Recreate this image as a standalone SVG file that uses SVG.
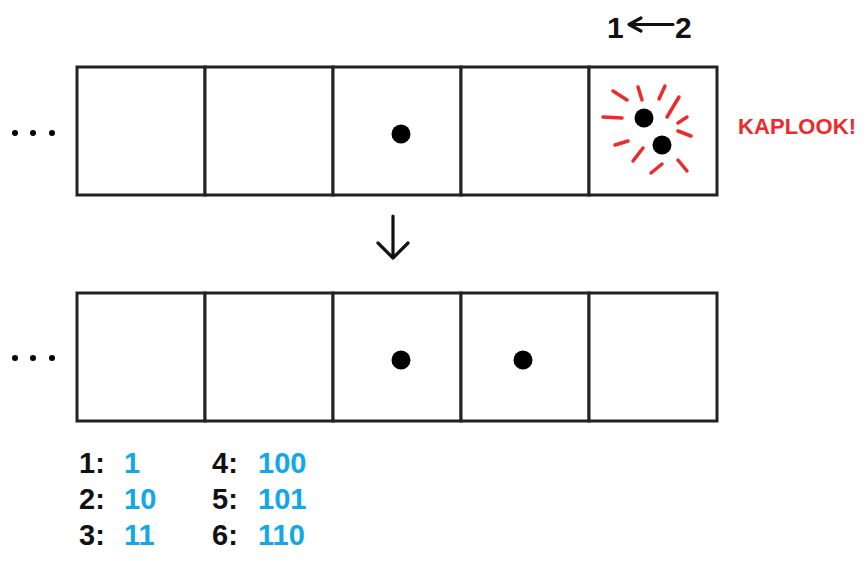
<svg xmlns="http://www.w3.org/2000/svg" width="867" height="561" viewBox="0 0 867 561">
<style>
.cell{fill:#fff;stroke:#222;stroke-width:3}
.dot{fill:#000}
.sdot{fill:#000}
.boom{stroke:#ee2a2a;stroke-width:3.5;stroke-linecap:round;fill:none}
.lbl{font-family:"Liberation Sans",Arial,sans-serif;font-weight:bold;fill:#111}
.num{font-family:"Liberation Sans",Arial,sans-serif;font-weight:bold;fill:#12a6ea}
.red{font-family:"Liberation Sans",Arial,sans-serif;font-weight:bold;fill:#ee2a2a}
.arr{stroke:#111;stroke-width:3.2;fill:none;stroke-linecap:round;stroke-linejoin:round}
</style>
<rect width="867" height="561" fill="#fff"/>

<g id="top-row">
  <g id="top-ellipsis"><circle class="sdot" cx="15" cy="133" r="3"/><circle class="sdot" cx="33" cy="133" r="3"/><circle class="sdot" cx="52" cy="133" r="3"/></g>
  <g id="t1"><rect class="cell" x="77" y="67" width="128" height="128"/></g>
  <g id="t2"><rect class="cell" x="205" y="67" width="128" height="128"/></g>
  <g id="t3"><rect class="cell" x="333" y="67" width="128" height="128"/><circle class="dot" cx="401" cy="134" r="9.5"/></g>
  <g id="t4"><rect class="cell" x="461" y="67" width="128" height="128"/></g>
  <g id="t5"><rect class="cell" x="589" y="67" width="128" height="128"/>
    <circle class="dot" cx="644" cy="118" r="9.5"/>
    <circle class="dot" cx="662" cy="145" r="9.5"/>
    <path class="boom" d="M613 91L627 100M638 87L642 100M665 86L659 99M679 97L667 117M687 117L678 123M603 117L622 118M678 131L691 136M615 145L628 141M643 148L633 161M662 164L651 173M678 160L687 171"/>
  </g>
  <text id="kaplook" class="red" x="738" y="134" font-size="22" textLength="118">KAPLOOK!</text>
  <g id="swap-label">
    <text class="lbl" x="607" y="38" font-size="30">1</text>
    <text class="lbl" x="675" y="38" font-size="30">2</text>
    <path class="arr" d="M630 24.5H673M641 18L629 24.5L641 31" stroke-width="3.6"/>
  </g>
</g>

<g id="connectors">
  <path class="arr" d="M393 216V258M378 243L393 258L408 243"/>
</g>

<g id="bottom-row">
  <g id="bottom-ellipsis"><circle class="sdot" cx="15" cy="358" r="3"/><circle class="sdot" cx="33" cy="358" r="3"/><circle class="sdot" cx="52" cy="358" r="3"/></g>
  <g id="b1"><rect class="cell" x="77" y="293" width="128" height="128"/></g>
  <g id="b2"><rect class="cell" x="205" y="293" width="128" height="128"/></g>
  <g id="b3"><rect class="cell" x="333" y="293" width="128" height="128"/><circle class="dot" cx="401" cy="360" r="9.5"/></g>
  <g id="b4"><rect class="cell" x="461" y="293" width="128" height="128"/><circle class="dot" cx="523" cy="360" r="9.5"/></g>
  <g id="b5"><rect class="cell" x="589" y="293" width="128" height="128"/></g>
</g>

<g id="legend" font-size="29">
  <text class="lbl" x="79" y="473">1:</text><text class="num" x="124" y="473">1</text>
  <text class="lbl" x="79" y="509">2:</text><text class="num" x="124" y="509">10</text>
  <text class="lbl" x="79" y="545">3:</text><text class="num" x="124" y="545">11</text>
  <text class="lbl" x="212" y="473">4:</text><text class="num" x="258" y="473">100</text>
  <text class="lbl" x="212" y="509">5:</text><text class="num" x="258" y="509">101</text>
  <text class="lbl" x="212" y="545">6:</text><text class="num" x="258" y="545">110</text>
</g>
</svg>
